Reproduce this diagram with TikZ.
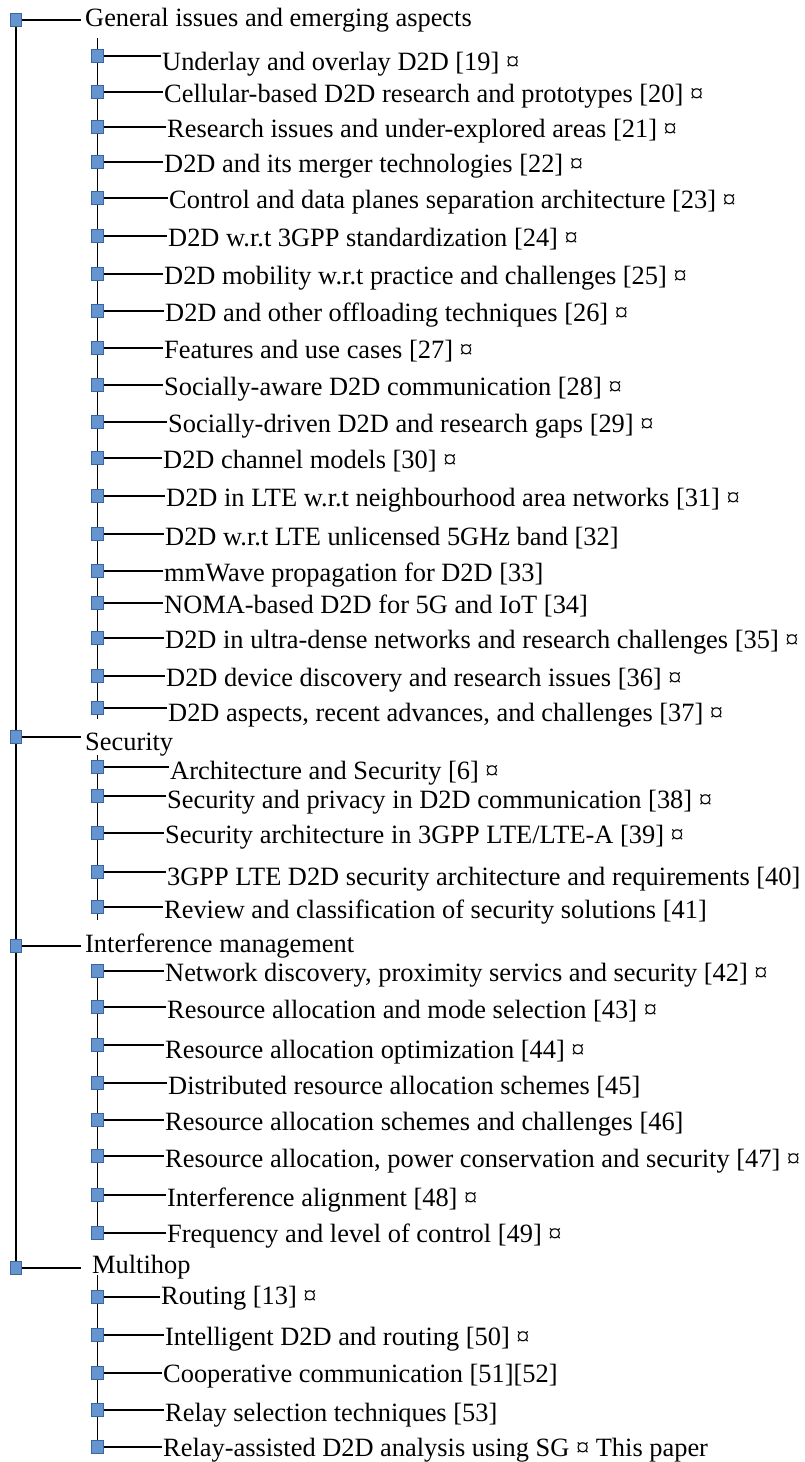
\documentclass[tikz,border=0pt]{standalone}
\usepackage{fontspec}
\setmainfont{Liberation Serif}
\usetikzlibrary{backgrounds}

\definecolor{boxfill}{HTML}{6495CF}
\definecolor{boxline}{HTML}{3B64A0}

\tikzset{
  rootbox/.style={rectangle, draw=boxline, fill=boxfill, line width=1.3pt,
                  minimum width=11.5pt, minimum height=13.5pt, inner sep=0pt},
  leafbox/.style={rootbox},
  headtext/.style={anchor=base west, inner sep=0pt, font=\fontsize{26.4pt}{30pt}\selectfont},
  leaftext/.style={headtext},
  branch/.style={draw=black, line width=1.6pt},
}

% one entry of a group: name, y, text x, baseline shift, label
\newcommand\treeleaf[5]{%
  \node[leafbox] (#1) at (97.5,#2) {};
  \node[leaftext] (#1t) at (#3,#2+#4) {#5};
  \draw[branch, shorten >=1pt] (#1.east) -- (#1t.west |- #1.center);
}
% one group heading: name, y, text x, baseline shift, label
\newcommand\treehead[5]{%
  \node[rootbox] (#1) at (16,#2) {};
  \node[headtext] (#1t) at (#3,#2+#4) {#5};
  \draw[branch] (#1.east) -- (81,#2);
}

\begin{document}
\begin{tikzpicture}[x=1pt, y=-1pt]
\useasboundingbox (0,0) rectangle (805,1462);

% ---- General issues and emerging aspects
\treehead{h1}{20}{85}{6}{General issues and emerging aspects}
\treeleaf{g1}{56}{162}{14}{Underlay and overlay D2D [19] ¤}
\treeleaf{g2}{92}{164}{10}{Cellular-based D2D research and prototypes [20] ¤}
\treeleaf{g3}{127}{167}{10}{Research issues and under-explored areas [21] ¤}
\treeleaf{g4}{162}{164}{10}{D2D and its merger technologies [22] ¤}
\treeleaf{g5}{198}{169}{10}{Control and data planes separation architecture [23] ¤}
\treeleaf{g6}{236}{168}{10}{D2D w.r.t 3GPP standardization [24] ¤}
\treeleaf{g7}{274}{164}{10}{D2D mobility w.r.t practice and challenges [25] ¤}
\treeleaf{g8}{311}{165}{10}{D2D and other offloading techniques [26] ¤}
\treeleaf{g9}{348}{164}{10}{Features and use cases [27] ¤}
\treeleaf{g10}{385}{164}{10}{Socially-aware D2D communication [28] ¤}
\treeleaf{g11}{422}{168}{10}{Socially-driven D2D and research gaps [29] ¤}
\treeleaf{g12}{458}{163}{10}{D2D channel models [30] ¤}
\treeleaf{g13}{496}{166}{10}{D2D in LTE w.r.t neighbourhood area networks [31] ¤}
\treeleaf{g14}{534}{165}{11}{D2D w.r.t LTE unlicensed 5GHz band [32]}
\treeleaf{g15}{571}{164}{10}{mmWave propagation for D2D [33]}
\treeleaf{g16}{603}{164}{10}{NOMA-based D2D for 5G and IoT [34]}
\treeleaf{g17}{638}{165}{10}{D2D in ultra-dense networks and research challenges [35] ¤}
\treeleaf{g18}{676}{166}{10}{D2D device discovery and research issues [36] ¤}
\treeleaf{g19}{708}{168}{13}{D2D aspects, recent advances, and challenges [37] ¤}

% ---- Security
\treehead{h2}{737}{85}{13}{Security}
\treeleaf{s1}{767}{170}{12}{Architecture and Security [6] ¤}
\treeleaf{s2}{796}{167}{12}{Security and privacy in D2D communication [38] ¤}
\treeleaf{s3}{833}{165}{10}{Security architecture in 3GPP LTE/LTE-A [39] ¤}
\treeleaf{s4}{872}{167}{13}{3GPP LTE D2D security architecture and requirements [40]}
\treeleaf{s5}{907}{164}{11}{Review and classification of security solutions [41]}

% ---- Interference management
\treehead{h3}{946}{85}{6}{Interference management}
\treeleaf{i1}{971}{165}{10}{Network discovery, proximity servics and security [42] ¤}
\treeleaf{i2}{1007}{167}{11}{Resource allocation and mode selection [43] ¤}
\treeleaf{i3}{1045}{165}{13}{Resource allocation optimization [44] ¤}
\treeleaf{i4}{1083}{168}{11}{Distributed resource allocation schemes [45]}
\treeleaf{i5}{1120}{165}{10}{Resource allocation schemes and challenges [46]}
\treeleaf{i6}{1156}{165}{11}{Resource allocation, power conservation and security [47] ¤}
\treeleaf{i7}{1195}{167}{11}{Interference alignment [48] ¤}
\treeleaf{i8}{1233}{167}{9}{Frequency and level of control [49] ¤}

% ---- Multihop
\treehead{h4}{1268}{92}{5}{Multihop}
\treeleaf{m1}{1297}{161}{7}{Routing [13] ¤}
\treeleaf{m2}{1335}{165}{10}{Intelligent D2D and routing [50] ¤}
\treeleaf{m3}{1373}{163}{9}{Cooperative communication [51][52]}
\treeleaf{m4}{1410}{165}{11}{Relay selection techniques [53]}
\treeleaf{m5}{1447}{163}{9}{Relay-assisted D2D analysis using SG ¤ This paper}

% ---- trunk lines behind the boxes
\coordinate (g0) at (97.5,38);
\coordinate (gend) at (97.5,719);
\coordinate (s0) at (97.5,755);
\coordinate (send) at (97.5,920);
\coordinate (m0) at (97.5,1275);
\begin{scope}[on background layer]
  \draw[branch] (h1.center) -- (h4.center);
  \draw[branch] (g0) -- (gend);
  \draw[branch] (s0) -- (send);
  \draw[branch] (i1.center) -- (i8.center);
  \draw[branch] (m0) -- (m5.center);
\end{scope}
\end{tikzpicture}
\end{document}
